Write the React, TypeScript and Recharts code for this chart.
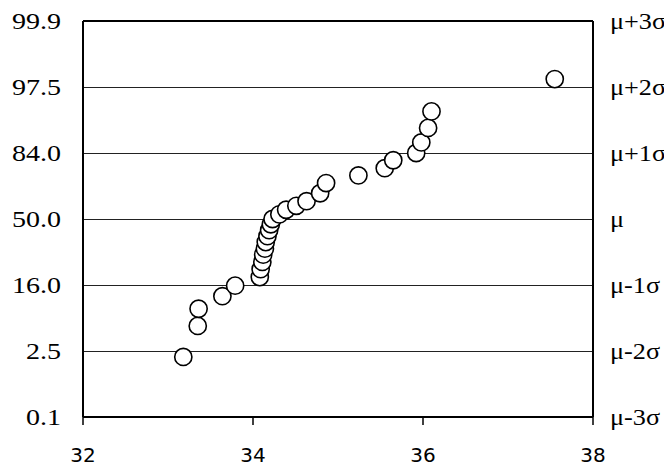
import React from 'react';
import { ScatterChart, Scatter, XAxis, YAxis, CartesianGrid, ReferenceLine } from 'recharts';

// measured values (x) and normal scores in sigma units (y)
const xValues = [
  33.18, 33.35, 33.36, 33.64, 33.79, 34.08, 34.09, 34.11, 34.12, 34.14,
  34.15, 34.17, 34.19, 34.21, 34.23, 34.31, 34.39, 34.51, 34.63, 34.79,
  34.86, 35.24, 35.55, 35.65, 35.92, 35.98, 36.06, 36.1, 37.55,
];
const sigmaValues = [
  -2.09, -1.62, -1.36, -1.17, -1.01, -0.88, -0.76, -0.65, -0.54, -0.45,
  -0.35, -0.26, -0.17, -0.08, 0.0, 0.07, 0.14, 0.2, 0.27, 0.39,
  0.545, 0.66, 0.77, 0.89, 1.0, 1.16, 1.38, 1.63, 2.12,
];

const sigmaTicks = [-3, -2, -1, 0, 1, 2, 3];
const percentLabels = ['0.1', '2.5', '16.0', '50.0', '84.0', '97.5', '99.9'];
const sigmaLabels = ['μ-3σ', 'μ-2σ', 'μ-1σ', 'μ', 'μ+1σ', 'μ+2σ', 'μ+3σ'];
const xTicks = [32, 34, 36, 38];

const points = xValues.map((x, i) => ({ x, y: sigmaValues[i] }));

const serif = '"Liberation Serif", "Times New Roman", serif';
const sans = '"DejaVu Sans", Verdana, sans-serif';

const OpenCircle = (props: any) => (
  <circle cx={props.cx} cy={props.cy} r={8.6} fill="#fff" stroke="#000" strokeWidth={1.6} />
);

const Nothing = () => <g />;

// the serif labels in the reference are a bit wide, so stretch them sideways
const LeftTick = (props: any) => {
  const { x, y, payload } = props;
  return (
    <text
      transform={`translate(${x},${y}) scale(1.22,1)`}
      dy="0.35em"
      textAnchor="end"
      fill="#000"
      fontSize={23}
      fontFamily={serif}
    >
      {percentLabels[sigmaTicks.indexOf(payload.value)]}
    </text>
  );
};

const RightTick = (props: any) => {
  const { x, y, payload } = props;
  return (
    <text
      transform={`translate(${x - 1},${y}) scale(1.14,1)`}
      dy="0.35em"
      textAnchor="start"
      fill="#000"
      fontSize={23}
      fontFamily={serif}
    >
      {sigmaLabels[sigmaTicks.indexOf(payload.value)]}
    </text>
  );
};

const BottomTick = (props: any) => {
  const { x, y, payload } = props;
  return (
    <text x={x} y={y} dy="0.75em" textAnchor="middle" fill="#000" fontSize={20} fontFamily={sans}>
      {payload.value}
    </text>
  );
};

export default function App() {
  return (
    <div style={{ width: 664, height: 460, background: '#fff' }}>
      <ScatterChart width={664} height={460} margin={{ top: 13, right: 19, bottom: 20, left: 15 }}>
        <CartesianGrid vertical={false} stroke="#222" strokeWidth={1} shapeRendering="crispEdges" yAxisId="left" />
        <XAxis
          type="number"
          dataKey="x"
          domain={[32, 38]}
          ticks={xTicks}
          tickSize={8}
          tickMargin={22}
          height={31}
          axisLine={{ stroke: '#000', strokeWidth: 2 }}
          tickLine={{ stroke: '#000', strokeWidth: 1.5 }}
          tick={BottomTick}
        />
        <YAxis
          yAxisId="left"
          type="number"
          dataKey="y"
          domain={[-3, 3]}
          ticks={sigmaTicks}
          width={60}
          tickSize={0}
          tickMargin={22}
          axisLine={{ stroke: '#000', strokeWidth: 2 }}
          tickLine={false}
          tick={LeftTick}
        />
        <YAxis
          yAxisId="right"
          orientation="right"
          type="number"
          dataKey="y"
          domain={[-3, 3]}
          ticks={sigmaTicks}
          width={60}
          tickSize={0}
          tickMargin={18}
          axisLine={{ stroke: '#000', strokeWidth: 2 }}
          tickLine={false}
          tick={RightTick}
        />
        <ReferenceLine yAxisId="left" y={3} stroke="#000" strokeWidth={2} />
        <Scatter yAxisId="right" data={points} shape={Nothing} isAnimationActive={false} />
        <Scatter yAxisId="left" data={points} shape={OpenCircle} isAnimationActive={false} />
      </ScatterChart>
    </div>
  );
}
